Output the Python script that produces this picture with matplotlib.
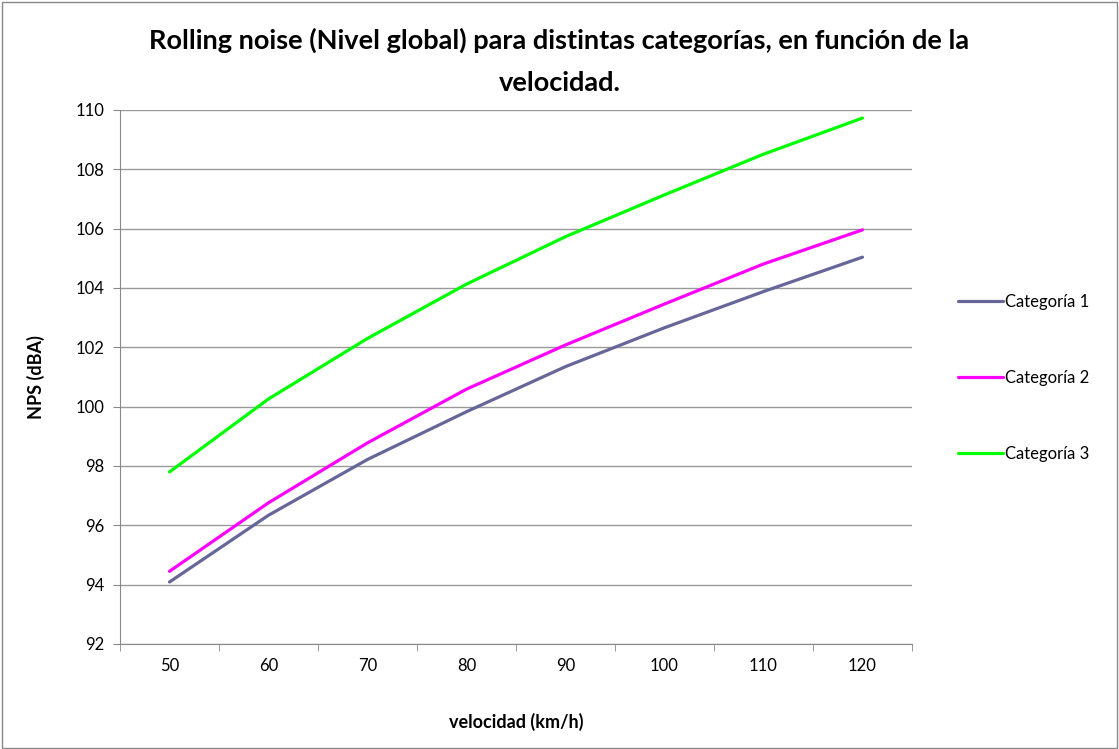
import matplotlib
matplotlib.use("Agg")
import matplotlib.pyplot as plt
from matplotlib.patches import Rectangle
from matplotlib.ticker import FixedLocator, MultipleLocator

plt.rcParams["font.family"] = ["Lato", "DejaVu Sans"]

# data
velocidad = [50, 60, 70, 80, 90, 100, 110, 120]
categoria_1 = [94.09, 96.34, 98.22, 99.83, 101.35, 102.66, 103.88, 105.04]
categoria_2 = [94.45, 96.76, 98.78, 100.59, 102.08, 103.46, 104.81, 105.96]
categoria_3 = [97.80, 100.26, 102.30, 104.13, 105.73, 107.14, 108.51, 109.73]
series_names = ["Categoría 1", "Categoría 2", "Categoría 3"]
series_colors = ["#666699", "#ff00ff", "#00ff00"]

fig = plt.figure(figsize=(11.19, 7.49), dpi=100)
fig.patches.append(Rectangle((0.002, 0.002), 0.996, 0.995, transform=fig.transFigure,
                             fill=False, edgecolor="#888888", linewidth=1.0))

# plot area in pixels: x 120..912, y 110..644
W, H = 1119, 749
ax = fig.add_axes([120 / W, 1 - 644 / H, (912 - 120) / W, (644 - 110) / H])

xpos = list(range(len(velocidad)))
for vals, name, color in zip([categoria_1, categoria_2, categoria_3], series_names, series_colors):
    ax.plot(xpos, vals, color=color, linewidth=2.3, label=name, solid_capstyle="round")

ax.set_xlim(-0.5, len(velocidad) - 0.5)
ax.set_ylim(92, 110)
ax.yaxis.set_major_locator(MultipleLocator(2))
ax.set_xticks(xpos)
ax.set_xticklabels([str(v) for v in velocidad])
ax.xaxis.set_minor_locator(FixedLocator([i - 0.5 for i in range(len(velocidad) + 1)]))
ax.tick_params(axis="x", which="major", length=0, pad=10, labelsize=12)
ax.tick_params(axis="x", which="minor", length=5, color="#888888", direction="out")
ax.tick_params(axis="y", length=5, color="#888888", direction="out", pad=6, labelsize=12)

ax.grid(True, axis="y", color="#999999", linewidth=1.0)
ax.set_axisbelow(True)
for side in ["top", "right"]:
    ax.spines[side].set_visible(False)
for side in ["left", "bottom"]:
    ax.spines[side].set_color("#888888")

ax.set_xlabel("velocidad (km/h)", fontsize=13, fontweight="bold", labelpad=28)
ax.set_ylabel("NPS (dBA)", fontsize=13, fontweight="bold", labelpad=22)

fig.text(0.5, 1 - 40 / H, "Rolling noise (Nivel global) para distintas categorías, en función de la",
         ha="center", va="center", fontsize=19.5, fontweight="bold")
fig.text(0.5, 1 - 83 / H, "velocidad.", ha="center", va="center", fontsize=19.5, fontweight="bold")

ax.legend(loc="center left", bbox_to_anchor=(1.039, 0.498),
          frameon=False, fontsize=12, handlelength=2.7, handletextpad=0.1,
          labelspacing=3.6)

fig.savefig("out.png", dpi=100)
